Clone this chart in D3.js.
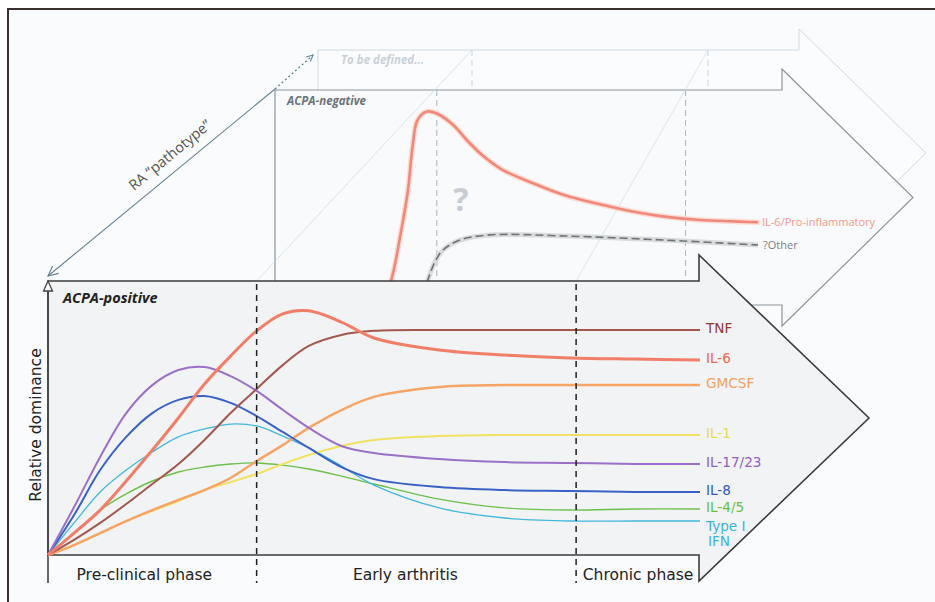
<!doctype html>
<html>
<head>
<meta charset="UTF-8">
<title>RA pathotype</title>
<script src="https://d3js.org/d3.v7.min.js"></script>
<style>
  body { margin: 0; background: #fff; }
  text { font-family: "DejaVu Sans", sans-serif; }
  .os { font-family: "Open Sans", sans-serif; }
</style>
</head>
<body>
<script>
// phases (front panel, ACPA-positive)
var phaseLabels = ["Pre-clinical phase", "Early arthritis", "Chronic phase"];
var phaseBounds = [0, 32, 81, 100];
var backPhaseBounds = [33.5, 85];

// time grid shared by every cytokine curve
var timeGrid = [0, 4, 8, 12, 16, 20, 24, 28, 32, 36, 40, 45, 50, 60, 70, 80, 90, 100];

var cytokines = ["TNF", "IL-6", "GMCSF", "IL-1", "IL-17/23", "IL-8", "IL-4/5", "Type I IFN"];
var tnfValues    = [0, 5.5, 11.7, 18.6, 25.9, 33.2, 42.0, 51.8, 60.6, 69.3, 76.3, 80.3, 81.8, 82.1, 82.1, 82.1, 82.1, 82.1];
var il6Values    = [0, 8.0, 16.4, 27.0, 38.3, 50.0, 62.4, 72.6, 81.8, 88.0, 89.1, 85.0, 79.2, 74.8, 73.0, 71.9, 71.5, 71.2];
var gmcsfValues  = [0, 3.6, 8.0, 12.4, 16.4, 20.1, 23.7, 28.1, 34.3, 40.1, 46.4, 52.9, 57.7, 61.3, 62.0, 62.0, 62.0, 62.0];
var il1Values    = [0, 3.6, 8.0, 12.4, 16.1, 19.7, 23.7, 26.6, 29.6, 33.2, 36.5, 39.8, 42.0, 43.4, 43.8, 43.8, 43.8, 43.8];
var il1723Values = [0, 17.5, 35.8, 51.8, 62.0, 67.5, 68.6, 65.3, 59.9, 53.0, 46.4, 39.8, 37.2, 35.0, 33.9, 33.6, 33.2, 33.2];
var il8Values    = [0, 14.6, 31.0, 43.1, 51.8, 56.6, 58.0, 55.5, 50.7, 44.9, 39.1, 32.1, 27.7, 24.8, 23.7, 23.4, 23.0, 23.0];
var il45Values   = [0, 8.0, 16.4, 22.3, 27.0, 30.3, 32.1, 33.2, 33.6, 32.8, 31.4, 28.8, 25.9, 20.4, 17.2, 16.4, 16.8, 16.8];
var ifnValues    = [0, 11.7, 23.0, 31.0, 37.6, 43.1, 46.0, 47.8, 47.1, 43.4, 39.1, 32.5, 25.5, 17.2, 13.5, 12.4, 12.4, 12.4];
var seriesValues = [tnfValues, il6Values, gmcsfValues, il1Values, il1723Values, il8Values, il45Values, ifnValues];

// back panel (ACPA-negative)
var backLabels = ["IL-6/Pro-inflammatory", "?Other"];
var backRedT   = [22, 24, 26, 27.5, 28.5, 29.5, 31.5, 34, 37, 40, 43, 47, 53, 60, 67, 74, 81, 88, 100];
var backRedV   = [0, 11, 33, 53, 74, 86, 90, 88.5, 83.5, 76, 69.5, 63, 57, 51, 47, 43.5, 41, 39.5, 38.5];
var backOtherT = [30, 31.5, 33.1, 34.8, 38.3, 44.5, 60, 80.7, 100];
var backOtherV = [0, 10.7, 20, 25.6, 30.2, 32.6, 32.1, 30.2, 27.9];

// styles
var lineColors  = ["#a3584f", "#f07e68", "#f6a566", "#f1e164", "#9a70c8", "#3a62c6", "#6cc04c", "#43b7dc"];
var labelColors = ["#8e3b34", "#ec6a50", "#f4a060", "#e8dc50", "#9360c0", "#3458c0", "#6cbf40", "#3ab4dc"];
var lineWidths  = [2, 3, 2.5, 2, 2, 2, 1.4, 1.3];

var W = 935, H = 602;
var svg = d3.select("body").append("svg").attr("width", W).attr("height", H);

// outer frame
svg.append("rect").attr("x", 8).attr("y", 9).attr("width", W - 8).attr("height", H - 9).attr("fill", "#fafbfc");
svg.append("path").attr("d", "M8," + H + "V9H" + W).attr("fill", "none").attr("stroke", "#3a302e").attr("stroke-width", 2);

function arrowPath(x0, x1, yt, yb, notch, tip) {
  var yc = (yt + yb) / 2;
  return "M" + x0 + "," + yt + "H" + x1 + "V" + (yt - notch) + "L" + tip + "," + yc +
    "L" + x1 + "," + (yb + notch) + "V" + yb + "H" + x0 + "Z";
}

// third arrow ("to be defined")
var third = { x0: 318, x1: 799, yt: 50, yb: 256 };
svg.append("path").attr("d", arrowPath(third.x0, third.x1, third.yt, third.yb, 21, 926))
  .attr("fill", "#fbfcfd").attr("stroke", "#cddbe4").attr("stroke-width", 1);
svg.append("text").attr("class", "os").attr("x", 341).attr("y", 64)
  .attr("font-size", 11.5).attr("font-weight", 700).attr("font-style", "italic").attr("fill", "#c9d1d8")
  .text("To be defined...");

// back arrow (ACPA-negative)
var back = { x0: 275, x1: 782, yt: 90, yb: 305 };
svg.append("path").attr("d", arrowPath(back.x0, back.x1, back.yt, back.yb, 21, 913))
  .attr("fill", "#f9fafb").attr("stroke", "#8b969d").attr("stroke-width", 1.2);

var bx = d3.scaleLinear().domain([0, 100]).range([275, 758]);
var by = d3.scaleLinear().domain([0, 100]).range([305, 90]);

// front scales
var x = d3.scaleLinear().domain([0, 100]).range([48, 700]);
var y = d3.scaleLinear().domain([0, 100]).range([555, 281]);

// dashes in third and back arrows
var thirdPhaseX = [472, 708];
svg.selectAll(".tdash").data(thirdPhaseX).enter().append("line")
  .attr("x1", function(d){ return d; }).attr("x2", function(d){ return d; })
  .attr("y1", third.yt).attr("y2", back.yt)
  .attr("stroke", "#c8d6df").attr("stroke-dasharray", "6,4");
svg.selectAll(".bdash").data(backPhaseBounds).enter().append("line")
  .attr("x1", function(d){ return bx(d); }).attr("x2", function(d){ return bx(d); })
  .attr("y1", back.yt).attr("y2", 281)
  .attr("stroke", "#aab5bc").attr("stroke-dasharray", "6,4");

// perspective lines
svg.selectAll(".persp").data([phaseBounds[1], phaseBounds[2]]).enter().append("line")
  .attr("x1", function(d){ return x(d); }).attr("y1", 281)
  .attr("x2", function(d, i){ return thirdPhaseX[i]; }).attr("y2", third.yt)
  .attr("stroke", "#c4dceb").attr("stroke-width", 0.7);

// back curves
var backLine = d3.line().curve(d3.curveCatmullRom.alpha(0.5))
  .x(function(d){ return bx(d[0]); }).y(function(d){ return by(d[1]); });
var redPts = d3.zip(backRedT, backRedV);
var otherPts = d3.zip(backOtherT, backOtherV);
svg.append("path").attr("d", backLine(redPts)).attr("fill", "none")
  .attr("stroke", "#fadcd6").attr("stroke-width", 5.5).attr("stroke-linecap", "round");
svg.append("path").attr("d", backLine(redPts)).attr("fill", "none")
  .attr("stroke", "#f2887a").attr("stroke-width", 2.6);
svg.append("path").attr("d", backLine(otherPts)).attr("fill", "none")
  .attr("stroke", "#d9dcde").attr("stroke-width", 5);
svg.append("path").attr("d", backLine(otherPts)).attr("fill", "none")
  .attr("stroke", "#6d7377").attr("stroke-width", 1.6).attr("stroke-dasharray", "8,4");

svg.append("text").attr("class", "os").attr("x", bx(100) + 4).attr("y", by(backRedV[backRedV.length - 1]) + 4)
  .attr("font-size", 11).attr("fill", "#f4998b").text(backLabels[0]);
svg.append("text").attr("class", "os").attr("x", bx(100) + 5).attr("y", by(backOtherV[backOtherV.length - 1]) + 4)
  .attr("font-size", 11).attr("fill", "#7a7f84").text(backLabels[1]);

svg.append("text").attr("class", "os").attr("x", 461).attr("y", 211).attr("text-anchor", "middle")
  .attr("font-size", 32).attr("font-weight", 700).attr("fill", "#c7cdd2").text("?");

svg.append("text").attr("class", "os").attr("x", 287).attr("y", 105)
  .attr("font-size", 11.5).attr("font-weight", 700).attr("font-style", "italic").attr("fill", "#6b7378")
  .text("ACPA-negative");

// RA pathotype arrow
var raStart = [48, 276], raEnd = [275, 89], raDot = [313, 55];
svg.append("line").attr("x1", raStart[0]).attr("y1", raStart[1]).attr("x2", raEnd[0]).attr("y2", raEnd[1])
  .attr("stroke", "#66808e").attr("stroke-width", 1.1);
svg.append("line").attr("x1", raEnd[0]).attr("y1", raEnd[1]).attr("x2", raDot[0]).attr("y2", raDot[1])
  .attr("stroke", "#5f8496").attr("stroke-width", 1.3).attr("stroke-dasharray", "2,2.5");
function chevron(p, from, len, col) {
  var a = Math.atan2(p[1] - from[1], p[0] - from[0]);
  var s = 0.45;
  var p1 = [p[0] - len * Math.cos(a - s), p[1] - len * Math.sin(a - s)];
  var p2 = [p[0] - len * Math.cos(a + s), p[1] - len * Math.sin(a + s)];
  svg.append("path").attr("d", "M" + p1 + "L" + p + "L" + p2).attr("fill", "none")
    .attr("stroke", col).attr("stroke-width", 1.1);
}
chevron(raStart, raEnd, 11, "#66808e");
chevron(raDot, raEnd, 7, "#5f8496");
var ang = Math.atan2(raEnd[1] - raStart[1], raEnd[0] - raStart[0]) * 180 / Math.PI;
svg.append("text").attr("class", "os")
  .attr("transform", "translate(173,159) rotate(" + ang + ")")
  .attr("text-anchor", "middle").attr("font-size", 14.5).attr("fill", "#555").text("RA \u201cpathotype\u201d");

// front arrow (ACPA-positive)
svg.append("path").attr("d", arrowPath(48, 699, 281, 555, 26, 869))
  .attr("fill", "#f2f3f4").attr("stroke", "#3d3d3d").attr("stroke-width", 1.6);

svg.append("text").attr("class", "os").attr("x", 63).attr("y", 303)
  .attr("font-size", 14.5).attr("font-weight", 700).attr("font-style", "italic").attr("fill", "#222")
  .text("ACPA-positive");

// y axis with open arrow
svg.append("line").attr("x1", 48).attr("x2", 48).attr("y1", 288).attr("y2", 583)
  .attr("stroke", "#444").attr("stroke-width", 1.6);
svg.append("path").attr("d", "M48,281L43.5,291H52.5Z").attr("fill", "#fff").attr("stroke", "#444").attr("stroke-width", 1.3);
svg.append("text").attr("transform", "translate(41,425) rotate(-90)").attr("text-anchor", "middle")
  .attr("font-size", 15.5).attr("fill", "#222").text("Relative dominance");

// curves
var line = d3.line().curve(d3.curveCatmullRom.alpha(0.5))
  .x(function(d){ return x(d[0]); }).y(function(d){ return y(d[1]); });
var order = [6, 7, 3, 2, 5, 4, 0, 1];
svg.selectAll(".curve").data(order).enter().append("path")
  .attr("d", function(i){ return line(d3.zip(timeGrid, seriesValues[i])); })
  .attr("fill", "none")
  .attr("stroke", function(i){ return lineColors[i]; })
  .attr("stroke-width", function(i){ return lineWidths[i]; });

// phase boundaries
svg.selectAll(".phase").data([phaseBounds[1], phaseBounds[2]]).enter().append("line")
  .attr("x1", function(d){ return x(d); }).attr("x2", function(d){ return x(d); })
  .attr("y1", 284).attr("y2", 583)
  .attr("stroke", "#222").attr("stroke-width", 1.5).attr("stroke-dasharray", "6,5");

var phaseShift = [-8, -11, 0];
svg.selectAll(".plab").data(phaseLabels).enter().append("text")
  .attr("x", function(d, i){ return (x(phaseBounds[i]) + x(phaseBounds[i + 1])) / 2 + phaseShift[i]; })
  .attr("y", 580).attr("text-anchor", "middle").attr("font-size", 15.5).attr("fill", "#222")
  .text(function(d){ return d; });

// cytokine labels (multi-word ones wrapped on two separate lines)
cytokines.forEach(function(name, i){
  var v = seriesValues[i];
  var ly = y(v[v.length - 1]) + 3;
  var parts = name === "Type I IFN" ? ["Type I", "IFN"] : [name];
  if (parts.length > 1) ly += 6.5;
  parts.forEach(function(p, k){
    svg.append("text").attr("x", x(100) + 6 + (k ? 2 : 0)).attr("y", ly + k * 15.8)
      .attr("font-size", 13.6).attr("fill", labelColors[i]).text(p);
  });
});
</script>
</body>
</html>
